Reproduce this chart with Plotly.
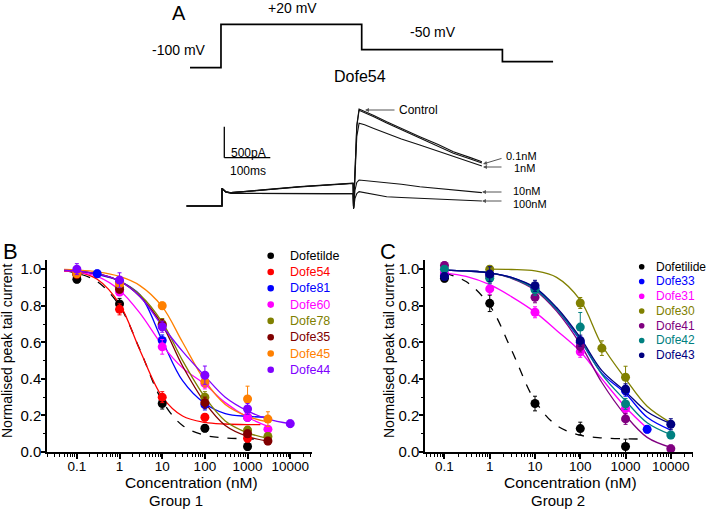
import plotly.graph_objects as go

W, H = 709, 510
FONT = "Arial, Liberation Sans, sans-serif"


def px(x):
    return x / W


def py(y):
    return 1 - y / H


# ---------------- Panel A data ----------------
protocol_time_ms = [-220, 0, 0, 1000, 1000, 2000, 2000, 2360]
protocol_mv = [-100, -100, 20, 20, -50, -50, -83, -83]

trace_time_ms = [-77, 0, 0, 8, 20, 60, 100, 170, 230, 285, 286, 289, 293, 298,
                 310, 330, 358, 390, 430, 470, 503, 540, 565]
trace_control = [0, 0, 285, 230, 215, 235, 265, 311, 345, 366, -37, 600, 1300, 1565,
                 1530, 1460, 1360, 1250, 1118, 990, 876, 780, 715]
trace_01nM = [0, 0, 285, 230, 215, 233, 262, 308, 342, 363, -37, 590, 1280, 1545,
              1510, 1440, 1340, 1230, 1095, 965, 852, 757, 692]
trace_1nM = [0, 0, 285, 230, 215, 236, 268, 314, 348, 368, -37, 520, 1120, 1334,
             1310, 1250, 1172, 1080, 984, 880, 795, 710, 645]
trace_10nM = [0, 0, 285, 225, 205, 202, 200, 200, 200, 200, -37, 250, 380, 419,
              410, 400, 382, 350, 311, 282, 258, 235, 215]
trace_100nM = [0, 0, 285, 225, 203, 200, 198, 198, 197, 197, -50, 120, 200, 231,
               215, 190, 150, 138, 124, 110, 98, 88, 81]
trace_labels = ["Control", "0.1nM", "1nM", "10nM", "100nM"]

# ---------------- Panel B data (Group 1) ----------------
b_names = ["Dofetilde", "Dofe54", "Dofe81", "Dofe60", "Dofe78", "Dofe35", "Dofe45", "Dofe44"]
b_colors = ["#000000", "#ff0000", "#0000ff", "#ff00ff", "#808000", "#800000", "#ff8000", "#8000ff"]
b_conc = [
    [0.1, 1, 10, 100, 1000],
    [0.1, 1, 10, 100, 1000],
    [0.3, 1, 10, 100, 1000],
    [0.1, 1, 10, 100, 1000, 3000],
    [0.1, 1, 10, 100, 1000, 3000],
    [0.1, 1, 10, 100, 1000, 3000],
    [0.1, 1, 10, 100, 1000, 3000],
    [0.1, 1, 10, 100, 1000, 10000],
]
b_values = [
    [0.945, 0.81, 0.265, 0.13, 0.03],
    [0.975, 0.78, 0.30, 0.19, 0.075],
    [0.975, 0.93, 0.61, 0.26, 0.19],
    [0.98, 0.875, 0.575, 0.375, 0.19, 0.125],
    [0.975, 0.90, 0.70, 0.30, 0.12, 0.085],
    [0.97, 0.89, 0.695, 0.27, 0.10, 0.06],
    [0.975, 0.92, 0.80, 0.385, 0.29, 0.18],
    [1.0, 0.94, 0.685, 0.42, 0.235, 0.155],
]
b_errors = [
    [0.02, 0.03, 0.03, 0.02, 0.02],
    [0.02, 0.03, 0.03, 0.02, 0.02],
    [0.02, 0.02, 0.03, 0.03, 0.02],
    [0.02, 0.02, 0.04, 0.03, 0.02, 0.02],
    [0.02, 0.02, 0.03, 0.03, 0.02, 0.02],
    [0.02, 0.02, 0.03, 0.03, 0.02, 0.02],
    [0.02, 0.02, 0.02, 0.03, 0.07, 0.04],
    [0.03, 0.04, 0.03, 0.05, 0.03, 0.02],
]
b_fit_conc = [
    [0.05, 0.1, 0.3, 1, 3, 10, 30, 100, 300, 1000, 1400],
    [0.05, 0.1, 0.3, 1, 3, 10, 30, 100, 300, 1000, 2000],
    [0.05, 0.1, 0.3, 1, 3, 10, 30, 100, 300, 1000, 3000],
    [0.05, 0.1, 0.3, 1, 3, 10, 30, 100, 300, 1000, 3000],
    [0.05, 0.1, 0.3, 1, 3, 10, 30, 100, 300, 1000, 3000],
    [0.05, 0.1, 0.3, 1, 3, 10, 30, 100, 300, 1000, 3000],
    [0.05, 0.1, 0.3, 1, 3, 10, 30, 100, 300, 1000, 3000],
    [0.05, 0.1, 0.3, 1, 3, 10, 30, 100, 300, 1000, 3000, 10000],
]
b_fit_values = [
    [0.99, 0.978, 0.932, 0.80, 0.56, 0.28, 0.145, 0.092, 0.077, 0.072, 0.071],
    [0.99, 0.985, 0.945, 0.81, 0.557, 0.302, 0.197, 0.162, 0.153, 0.150, 0.150],
    [0.995, 0.99, 0.97, 0.935, 0.86, 0.61, 0.39, 0.265, 0.21, 0.195, 0.19],
    [0.99, 0.985, 0.96, 0.885, 0.76, 0.585, 0.46, 0.37, 0.27, 0.19, 0.14],
    [0.995, 0.99, 0.975, 0.935, 0.86, 0.71, 0.50, 0.30, 0.17, 0.105, 0.075],
    [0.995, 0.99, 0.975, 0.935, 0.85, 0.695, 0.47, 0.27, 0.145, 0.085, 0.06],
    [0.998, 0.995, 0.985, 0.96, 0.91, 0.795, 0.60, 0.39, 0.26, 0.195, 0.165],
    [0.995, 0.99, 0.975, 0.935, 0.85, 0.69, 0.55, 0.415, 0.30, 0.225, 0.18, 0.155],
]

# ---------------- Panel C data (Group 2) ----------------
c_names = ["Dofetilide", "Dofe33", "Dofe31", "Dofe30", "Dofe41", "Dofe42", "Dofe43"]
c_colors = ["#000000", "#0000ff", "#ff00ff", "#808000", "#800080", "#008080", "#000080"]
c_conc = [
    [0.1, 1, 10, 100, 1000],
    [0.1, 1, 10, 100, 1000, 3000],
    [0.1, 1, 10, 100, 1000],
    [1, 100, 300, 1000],
    [0.1, 1, 10, 100, 1000, 10000],
    [0.1, 1, 10, 100, 1000, 10000],
    [0.1, 1, 10, 100, 1000, 10000],
]
c_values = [
    [0.95, 0.813, 0.265, 0.128, 0.03],
    [0.965, 0.97, 0.895, 0.60, 0.335, 0.124],
    [0.98, 0.892, 0.764, 0.548, 0.238],
    [1.0, 0.815, 0.568, 0.409],
    [1.02, 0.96, 0.846, 0.577, 0.181, 0.018],
    [1.0, 0.95, 0.887, 0.683, 0.263, 0.093],
    [0.96, 0.973, 0.909, 0.609, 0.343, 0.152],
]
c_errors = [
    [0.02, 0.045, 0.04, 0.035, 0.04],
    [0.02, 0.03, 0.03, 0.03, 0.03, 0.02],
    [0.02, 0.03, 0.03, 0.03, 0.03],
    [0.02, 0.03, 0.04, 0.06],
    [0.02, 0.03, 0.03, 0.03, 0.03, 0.02],
    [0.02, 0.03, 0.03, 0.08, 0.03, 0.02],
    [0.02, 0.04, 0.03, 0.03, 0.03, 0.03],
]
c_fit_conc = [
    [0.1, 0.3, 1, 3, 10, 30, 100, 300, 1000, 2000],
    [0.1, 0.3, 1, 3, 10, 30, 100, 300, 1000, 3000, 10000],
    [0.1, 0.3, 1, 3, 10, 30, 100, 300, 1000, 3000],
    [1, 3, 10, 30, 100, 300, 1000, 3000, 10000],
    [0.1, 0.3, 1, 3, 10, 30, 100, 300, 1000, 3000, 10000],
    [0.1, 0.3, 1, 3, 10, 30, 100, 300, 1000, 3000, 10000],
    [0.1, 0.3, 1, 3, 10, 30, 100, 300, 1000, 3000, 10000],
]
c_fit_values = [
    [0.978, 0.932, 0.80, 0.56, 0.28, 0.145, 0.092, 0.077, 0.072, 0.071],
    [0.995, 0.99, 0.98, 0.955, 0.895, 0.78, 0.61, 0.43, 0.32, 0.19, 0.12],
    [0.98, 0.96, 0.915, 0.85, 0.765, 0.665, 0.55, 0.40, 0.245, 0.13],
    [1.0, 0.998, 0.99, 0.955, 0.83, 0.585, 0.40, 0.25, 0.16],
    [0.995, 0.99, 0.98, 0.95, 0.885, 0.77, 0.59, 0.38, 0.20, 0.08, 0.025],
    [0.995, 0.99, 0.98, 0.952, 0.89, 0.78, 0.615, 0.425, 0.28, 0.16, 0.095],
    [0.995, 0.99, 0.98, 0.955, 0.90, 0.79, 0.625, 0.445, 0.33, 0.22, 0.155],
]

y_tick_vals = [0.0, 0.2, 0.4, 0.6, 0.8, 1.0]
y_tick_text = ["0.0", "0.2", "0.4", "0.6", "0.8", "1.0"]
x_tick_vals = [0.1, 1, 10, 100, 1000, 10000]
x_tick_text = ["0.1", "1", "10", "100", "1000", "10000"]

fig = go.Figure()

# ---- Panel A ----
fig.add_trace(go.Scatter(x=protocol_time_ms, y=protocol_mv, mode="lines",
                         line=dict(color="black", width=1.7), xaxis="x3", yaxis="y3",
                         showlegend=False, hoverinfo="skip"))
for tr in [trace_100nM, trace_10nM, trace_1nM, trace_01nM, trace_control]:
    fig.add_trace(go.Scatter(x=trace_time_ms, y=tr, mode="lines",
                             line=dict(color="#111111", width=1.1), xaxis="x4", yaxis="y4",
                             showlegend=False, hoverinfo="skip"))

# ---- Panel B ----
for i, name in enumerate(b_names):
    dash = "dash" if i == 0 else "solid"
    fig.add_trace(go.Scatter(x=b_fit_conc[i], y=b_fit_values[i], mode="lines",
                             line=dict(color=b_colors[i], width=1.3, dash=dash, shape="spline", smoothing=1.0),
                             xaxis="x", yaxis="y", showlegend=False, hoverinfo="skip"))
for i, name in enumerate(b_names):
    fig.add_trace(go.Scatter(x=b_conc[i], y=b_values[i], mode="markers", name=name,
                             marker=dict(color=b_colors[i], size=9, line=dict(width=0)),
                             error_y=dict(type="data", array=b_errors[i], color=b_colors[i],
                                          thickness=1, width=2),
                             cliponaxis=False, xaxis="x", yaxis="y", showlegend=False))

# ---- Panel C ----
for i, name in enumerate(c_names):
    dash = "dash" if i == 0 else "solid"
    fig.add_trace(go.Scatter(x=c_fit_conc[i], y=c_fit_values[i], mode="lines",
                             line=dict(color=c_colors[i], width=1.3, dash=dash, shape="spline", smoothing=1.0),
                             xaxis="x2", yaxis="y2", showlegend=False, hoverinfo="skip"))
for i, name in enumerate(c_names):
    fig.add_trace(go.Scatter(x=c_conc[i], y=c_values[i], mode="markers", name=name,
                             marker=dict(color=c_colors[i], size=9, line=dict(width=0)),
                             error_y=dict(type="data", array=c_errors[i], color=c_colors[i],
                                          thickness=1, width=2),
                             cliponaxis=False, xaxis="x2", yaxis="y2", showlegend=False))

# ---- Axes ----
def xlog_axis(domain, rng, anchor):
    return dict(type="log", domain=domain, range=rng, anchor=anchor,
                showline=True, linecolor="black", linewidth=1.5,
                ticks="outside", ticklen=5, tickwidth=1.5, tickcolor="black",
                tickmode="array", tickvals=x_tick_vals, ticktext=x_tick_text,
                tickfont=dict(family=FONT, size=13.5, color="black"),
                ticklabelstandoff=-4,
                minor=dict(ticks="outside", ticklen=3, tickwidth=1, tickcolor="black", dtick="D1"),
                showgrid=False, zeroline=False)


def y_axis(domain, anchor):
    return dict(domain=domain, range=[0, 1.05], anchor=anchor,
                showline=True, linecolor="black", linewidth=1.5,
                ticks="outside", ticklen=4, tickwidth=1.5, tickcolor="black",
                tickmode="array", tickvals=y_tick_vals, ticktext=y_tick_text,
                tickfont=dict(family=FONT, size=15, color="black"),
                ticklabelstandoff=-3,
                minor=dict(ticks="outside", ticklen=2, tickwidth=1, tickcolor="black", dtick=0.1),
                showgrid=False, zeroline=False)


hidden = dict(visible=False, showgrid=False, zeroline=False, fixedrange=True)

fig.update_layout(
    width=W, height=H,
    margin=dict(l=0, r=0, t=0, b=0, pad=0, autoexpand=False),
    paper_bgcolor="white", plot_bgcolor="rgba(0,0,0,0)",
    showlegend=False,
    font=dict(family=FONT, color="black"),
    xaxis=xlog_axis([px(47), px(312)], [-1.70, 4.51], "y"),
    yaxis=y_axis([py(452), py(260)], "x"),
    xaxis2=xlog_axis([px(425), px(693)], [-1.43, 4.49], "y2"),
    yaxis2=y_axis([py(452), py(260)], "x2"),
    xaxis3=dict(domain=[px(185.8), px(558.7)], range=[-250, 2400], anchor="y3", **hidden),
    yaxis3=dict(domain=[py(71.3), py(20.7)], range=[-110, 30], anchor="x3", **hidden),
    xaxis4=dict(domain=[px(185.2), px(486.5)], range=[-80, 575], anchor="y4", **hidden),
    yaxis4=dict(domain=[py(209.1), py(103.7)], range=[-50, 1650], anchor="x4", **hidden),
)

# scale bar (500 pA / 100 ms) in trace axes
fig.add_shape(type="line", xref="x4", yref="y4", x0=5, x1=5, y0=779, y1=1279,
              line=dict(color="black", width=1.3))
fig.add_shape(type="line", xref="x4", yref="y4", x0=5, x1=105, y0=779, y1=779,
              line=dict(color="black", width=1.3))

annotations = []


def ann(text, x, y, size, xanchor="center", color="black", angle=0):
    annotations.append(dict(text=text, x=px(x), y=py(y), xref="paper", yref="paper",
                            xanchor=xanchor, yanchor="middle", showarrow=False, borderpad=0,
                            textangle=angle, font=dict(family=FONT, size=size, color=color)))


def arrow(hx, hy, tx, ty):
    annotations.append(dict(text="", x=px(hx), y=py(hy), xref="paper", yref="paper",
                            ax=tx - hx, ay=ty - hy, showarrow=True, arrowhead=2,
                            arrowsize=0.8, arrowwidth=1, arrowcolor="#555555"))


# Panel A texts
ann("A", 179, 13, 20)
ann("+20 mV", 292, 8, 14)
ann("-100 mV", 207, 50, 14, xanchor="right")
ann("-50 mV", 433, 32, 14)
ann("Dofe54", 360, 76, 16)
ann("500pA", 230, 153, 12, xanchor="left")
ann("100ms", 229, 171, 12, xanchor="left")
ann(trace_labels[0], 398, 110, 12, xanchor="left")
ann(trace_labels[1], 505, 155.5, 11, xanchor="left")
ann(trace_labels[2], 513, 168, 11, xanchor="left")
ann(trace_labels[3], 512, 190.5, 11, xanchor="left")
ann(trace_labels[4], 512, 203.5, 11, xanchor="left")
arrow(365, 110, 396, 110)
arrow(483, 164, 503, 158)
arrow(483, 167, 503, 167)
arrow(482, 192, 503, 192)
arrow(482, 201, 503, 201)

# Panel labels, axis titles
ann("B", 10, 251, 22)
ann("C", 388, 251, 22)
ann("Normalised peak tail current", 7, 351, 14, angle=-90)
ann("Normalised peak tail current", 389, 351, 14, angle=-90)
ann("Concentration (nM)", 191, 482, 15.5)
ann("Group 1", 176, 500, 15)
ann("Concentration (nM)", 570, 482, 15.5)
ann("Group 2", 558, 500, 15)

# Legends (manual)
shapes = []
for i, name in enumerate(b_names):
    yy = 255.7 + i * 16.3
    shapes.append(dict(type="circle", xref="paper", yref="paper",
                       x0=px(270.7 - 3.3), x1=px(270.7 + 3.3), y0=py(yy + 3.3), y1=py(yy - 3.3),
                       fillcolor=b_colors[i], line=dict(width=0)))
    ann(name, 289, yy, 12.5, xanchor="left", color=b_colors[i])
for i, name in enumerate(c_names):
    yy = 266.7 + i * 14.75
    shapes.append(dict(type="circle", xref="paper", yref="paper",
                       x0=px(641.7 - 2.8), x1=px(641.7 + 2.8), y0=py(yy + 2.8), y1=py(yy - 2.8),
                       fillcolor=c_colors[i], line=dict(width=0)))
    ann(name, 655, yy, 12, xanchor="left", color=c_colors[i])

for s in shapes:
    fig.add_shape(**s)
fig.update_layout(annotations=annotations)

fig.write_html("out.html", config={"displayModeBar": False},
               post_script="document.body.style.margin='0px';document.body.style.padding='0px';")
